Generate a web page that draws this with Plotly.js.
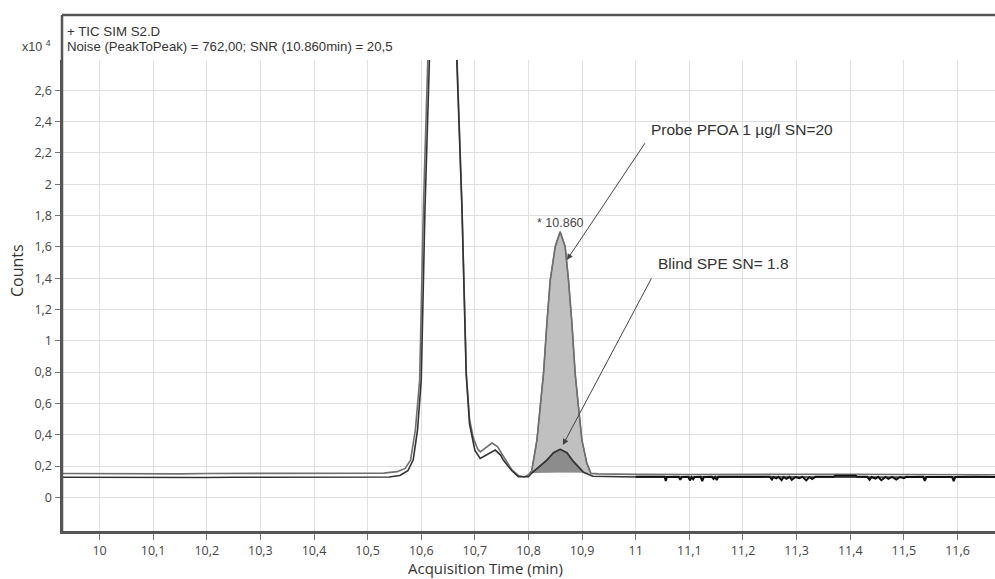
<!DOCTYPE html>
<html>
<head>
<meta charset="utf-8">
<script src="https://cdn.plot.ly/plotly-3.0.1.min.js"></script>
<style>html,body{margin:0;padding:0;background:#fff;}#chart{width:995px;height:579px;}</style>
</head>
<body>
<div id="chart"></div>
<script>
// Probe PFOA 1 µg/l chromatogram (grey trace, upper baseline)
const probeTime = [9.930, 9.980, 10.050, 10.100, 10.150, 10.200, 10.250, 10.300, 10.350, 10.400, 10.450, 10.500, 10.530, 10.555, 10.570, 10.580, 10.589, 10.597, 10.604, 10.612, 10.620, 10.635, 10.650, 10.6665, 10.676, 10.684, 10.690, 10.697, 10.705, 10.710, 10.720, 10.732, 10.742, 10.753, 10.769, 10.781, 10.792, 10.800, 10.806, 10.8157, 10.8218, 10.828, 10.8343, 10.8405, 10.8498, 10.859, 10.8684, 10.8746, 10.881, 10.887, 10.8932, 10.8996, 10.9089, 10.9164, 10.930, 10.960, 11.000, 11.100, 11.200, 11.300, 11.400, 11.500, 11.600, 11.670];
const probeCounts = [0.152, 0.151, 0.153, 0.152, 0.150, 0.152, 0.153, 0.151, 0.152, 0.152, 0.154, 0.153, 0.155, 0.164, 0.185, 0.238, 0.430, 0.750, 1.850, 2.770, 4.500, 6.000, 4.500, 2.770, 1.855, 0.790, 0.500, 0.380, 0.310, 0.291, 0.315, 0.347, 0.325, 0.262, 0.175, 0.140, 0.130, 0.145, 0.170, 0.366, 0.579, 0.792, 1.112, 1.388, 1.601, 1.697, 1.601, 1.388, 1.112, 0.792, 0.579, 0.366, 0.217, 0.153, 0.150, 0.148, 0.147, 0.146, 0.148, 0.146, 0.148, 0.146, 0.145, 0.144];

// Blind SPE chromatogram (dark trace, lower baseline)
const blindTime = [9.930, 9.980, 10.050, 10.100, 10.150, 10.200, 10.250, 10.300, 10.350, 10.400, 10.450, 10.500, 10.540, 10.560, 10.575, 10.585, 10.593, 10.600, 10.607, 10.615, 10.625, 10.640, 10.655, 10.6665, 10.6758, 10.6838, 10.690, 10.700, 10.710, 10.725, 10.738, 10.748, 10.753, 10.769, 10.781, 10.800, 10.806, 10.8343, 10.8466, 10.859, 10.8716, 10.884, 10.8964, 10.9026, 10.920, 10.950, 11.000, 11.100, 11.200, 11.300, 11.400, 11.500, 11.600, 11.670];
const blindCounts = [0.128, 0.127, 0.128, 0.129, 0.128, 0.127, 0.128, 0.128, 0.129, 0.128, 0.128, 0.129, 0.130, 0.140, 0.170, 0.240, 0.430, 0.750, 1.850, 2.770, 4.500, 6.000, 4.500, 2.770, 1.855, 0.790, 0.470, 0.300, 0.249, 0.275, 0.302, 0.270, 0.238, 0.170, 0.132, 0.132, 0.155, 0.238, 0.285, 0.307, 0.285, 0.228, 0.185, 0.160, 0.135, 0.132, 0.130, 0.130, 0.129, 0.130, 0.129, 0.129, 0.128, 0.128];

// Noise region used for the SNR (black, from 11.0 min)
const noiseTime = [11.000, 11.040, 11.054, 11.056, 11.058, 11.080, 11.083, 11.086, 11.098, 11.101, 11.104, 11.107, 11.110, 11.121, 11.124, 11.127, 11.142, 11.145, 11.148, 11.151, 11.154, 11.200, 11.250, 11.254, 11.257, 11.262, 11.266, 11.272, 11.276, 11.281, 11.287, 11.291, 11.298, 11.305, 11.311, 11.318, 11.324, 11.329, 11.335, 11.369, 11.372, 11.410, 11.413, 11.432, 11.436, 11.440, 11.447, 11.452, 11.458, 11.466, 11.471, 11.478, 11.486, 11.493, 11.500, 11.505, 11.510, 11.536, 11.539, 11.542, 11.590, 11.593, 11.596, 11.630, 11.670];
const noiseCounts = [0.132, 0.131, 0.131, 0.105, 0.130, 0.131, 0.112, 0.130, 0.131, 0.108, 0.129, 0.115, 0.130, 0.131, 0.104, 0.130, 0.131, 0.118, 0.130, 0.110, 0.131, 0.132, 0.131, 0.114, 0.130, 0.121, 0.131, 0.110, 0.130, 0.119, 0.131, 0.112, 0.130, 0.123, 0.131, 0.108, 0.130, 0.117, 0.131, 0.131, 0.138, 0.138, 0.131, 0.131, 0.112, 0.130, 0.120, 0.131, 0.109, 0.130, 0.118, 0.131, 0.114, 0.130, 0.122, 0.131, 0.130, 0.131, 0.106, 0.130, 0.130, 0.104, 0.130, 0.131, 0.130];

// integration windows of the two 10.860 min peaks
const probeWindow = [10.806, 10.9164];
const blindWindow = [10.806, 10.9026];

// tick labels
const xTickVals = [10, 10.1, 10.2, 10.3, 10.4, 10.5, 10.6, 10.7, 10.8, 10.9, 11, 11.1, 11.2, 11.3, 11.4, 11.5, 11.6];
const xTickText = ["10", "10,1", "10,2", "10,3", "10,4", "10,5", "10,6", "10,7", "10,8", "10,9", "11", "11,1", "11,2", "11,3", "11,4", "11,5", "11,6"];
const yTickVals = [0, 0.2, 0.4, 0.6, 0.8, 1, 1.2, 1.4, 1.6, 1.8, 2, 2.2, 2.4, 2.6];
const yTickText = ["0", "0,2", "0,4", "0,6", "0,8", "1", "1,2", "1,4", "1,6", "1,8", "2", "2,2", "2,4", "2,6"];

function windowed(t, v, w) {
  const xs = [], ys = [];
  for (let i = 0; i < t.length; i++) {
    if (t[i] >= w[0] - 1e-9 && t[i] <= w[1] + 1e-9) { xs.push(t[i]); ys.push(v[i]); }
  }
  return {x: xs, y: ys};
}
const pA = windowed(probeTime, probeCounts, probeWindow);
const bA = windowed(blindTime, blindCounts, blindWindow);

const traces = [
  {x: pA.x, y: pA.y, type: 'scatter', mode: 'lines', fill: 'toself', fillcolor: '#c0c0c0',
   line: {color: '#666', width: 1.3}, hoverinfo: 'skip'},
  {x: bA.x, y: bA.y, type: 'scatter', mode: 'lines', fill: 'toself', fillcolor: '#8c8c8c',
   line: {color: '#555', width: 1.3}, hoverinfo: 'skip'},
  {x: probeTime, y: probeCounts, type: 'scatter', mode: 'lines', line: {color: '#6f6f6f', width: 1.6}, hoverinfo: 'skip'},
  {x: blindTime, y: blindCounts, type: 'scatter', mode: 'lines', line: {color: '#333', width: 1.6}, hoverinfo: 'skip'},
  {x: noiseTime, y: noiseCounts, type: 'scatter', mode: 'lines', line: {color: '#111', width: 2}, hoverinfo: 'skip'}
];

const topY = (531 - 15) / 471;
const annFont = {family: 'Liberation Sans, Arial, sans-serif', size: 15.5, color: '#333'};
const px2x = function (px) { return (px - 62) / 933; };
const px2y = function (py) { return (531 - py) / 471; };

const layout = {
  width: 995, height: 579,
  margin: {l: 62, r: 0, t: 60, b: 48, pad: 0},
  paper_bgcolor: '#fff', plot_bgcolor: '#fff',
  showlegend: false,
  font: {family: 'Open Sans, Noto Sans, sans-serif', size: 12, color: '#444'},
  xaxis: {
    range: [9.930, 11.670], tickmode: 'array', tickvals: xTickVals, ticktext: xTickText,
    showgrid: true, gridcolor: '#e0e0e0', gridwidth: 1, zeroline: false,
    showline: true, linecolor: '#555', linewidth: 2.5,
    ticks: 'outside', ticklen: 6, tickcolor: '#777', tickwidth: 1,
    tickfont: {family: 'Open Sans, sans-serif', size: 12.5, color: '#444'}
  },
  yaxis: {
    range: [-0.215, 2.794], tickmode: 'array', tickvals: yTickVals, ticktext: yTickText,
    showgrid: true, gridcolor: '#e0e0e0', gridwidth: 1, zeroline: false,
    showline: true, linecolor: '#555', linewidth: 2.5,
    ticks: 'outside', ticklen: 5, tickcolor: '#777', tickwidth: 1,
    tickfont: {family: 'Open Sans, sans-serif', size: 12.5, color: '#444'}
  },
  shapes: [
    {type: 'line', xref: 'paper', yref: 'paper', x0: 0, x1: 1.01, y0: topY, y1: topY, line: {color: '#555', width: 2.5}},
    {type: 'line', xref: 'paper', yref: 'paper', x0: 0, x1: 0, y0: 0, y1: topY, line: {color: '#555', width: 2.5}}
  ],
  annotations: [
    {xref: 'paper', yref: 'paper', x: px2x(485), y: px2y(568), xanchor: 'center', yanchor: 'middle', showarrow: false,
     text: 'Acquisition Time (min)', font: {family: 'Open Sans, sans-serif', size: 15, color: '#333'}},
    {xref: 'paper', yref: 'paper', x: px2x(17), y: px2y(271), xanchor: 'center', yanchor: 'middle', showarrow: false,
     textangle: -90, text: 'Counts', font: {family: 'Open Sans, sans-serif', size: 16, color: '#333'}},
    {xref: 'paper', yref: 'paper', x: px2x(65), y: px2y(31), xanchor: 'left', yanchor: 'middle', showarrow: false,
     text: '+ TIC SIM S2.D', font: {family: 'Liberation Sans, Arial, sans-serif', size: 13.3, color: '#333'}},
    {xref: 'paper', yref: 'paper', x: px2x(65), y: px2y(46), xanchor: 'left', yanchor: 'middle', showarrow: false,
     text: 'Noise (PeakToPeak) = 762,00; SNR (10.860min) = 20,5', font: {family: 'Liberation Sans, Arial, sans-serif', size: 13.2, color: '#333'}},
    {xref: 'paper', yref: 'paper', x: px2x(53), y: px2y(46), xanchor: 'right', yanchor: 'middle', showarrow: false,
     text: 'x10 <sup>4</sup>', font: {family: 'Liberation Sans, Arial, sans-serif', size: 12.5, color: '#444'}},
    {xref: 'x', yref: 'y', x: 10.8591, y: 1.752, xanchor: 'center', yanchor: 'middle', showarrow: false,
     text: '* 10.860', font: {family: 'Liberation Sans, Arial, sans-serif', size: 12.5, color: '#444'}},
    {xref: 'x', yref: 'y', x: 11.1985, y: 2.353, xanchor: 'center', yanchor: 'middle', showarrow: false,
     text: 'Probe PFOA 1 µg/l SN=20', font: annFont},
    {xref: 'x', yref: 'y', x: 11.163, y: 1.491, xanchor: 'center', yanchor: 'middle', showarrow: false,
     text: 'Blind SPE SN= 1.8', font: annFont},
    {xref: 'x', yref: 'y', x: 10.8716, y: 1.517, axref: 'x', ayref: 'y', ax: 11.019, ay: 2.272, text: '',
     showarrow: true, arrowhead: 2, arrowsize: 1.2, arrowwidth: 1, arrowcolor: '#444'},
    {xref: 'x', yref: 'y', x: 10.8641, y: 0.334, axref: 'x', ayref: 'y', ax: 11.0307, ay: 1.408, text: '',
     showarrow: true, arrowhead: 2, arrowsize: 1.2, arrowwidth: 1, arrowcolor: '#444'}
  ]
};

Plotly.newPlot('chart', traces, layout, {displayModeBar: false, staticPlot: true});
</script>
</body>
</html>
